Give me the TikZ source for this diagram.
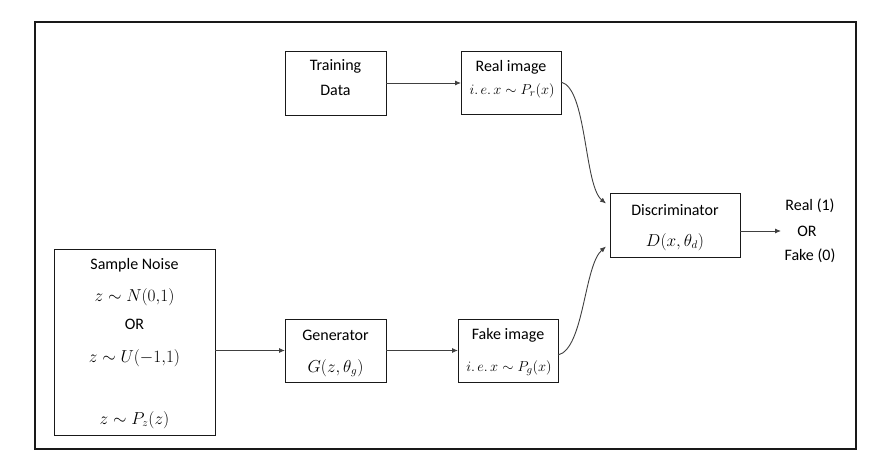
\documentclass[tikz,border=0pt]{standalone}
\usepackage{fontspec}
\setmainfont{Carlito}
\usetikzlibrary{arrows.meta}
\begin{document}
\begin{tikzpicture}[x=1pt,y=-1pt,
  box/.style={draw=black!90, line width=0.9pt, minimum width=#1, inner sep=0pt, outer sep=0pt},
  txt/.style={font=\fontsize{16}{19}\selectfont, inner sep=0pt, anchor=center},
  mtxt/.style={font=\fontsize{15}{18}\selectfont, inner sep=0pt, anchor=center},
  conn/.style={draw=black!75, line width=0.9pt, -{Latex[length=6pt,width=5pt]}}
]
\useasboundingbox (0,0) rectangle (887,472);
\draw[line width=2pt, black!90] (34.5,21.5) rectangle (855.5,448.5);

% boxes
\node[box=101pt, minimum height=64pt] (td) at (335.5,83) {};
\node[box=100pt, minimum height=63pt] (real) at (511,82.5) {};
\node[box=130pt, minimum height=64pt] (disc) at (675,225) {};
\node[box=161pt, minimum height=186pt] (noise) at (134.5,342) {};
\node[box=101pt, minimum height=63pt] (gen) at (335.5,350.5) {};
\node[box=100pt, minimum height=63pt] (fake) at (508,350.5) {};

% texts
\node[txt] (tdA) at (335.5,66) {Training};
\node[txt] (tdB) at (335.5,90) {Data};
\node[txt] (realA) at (511,67) {Real image};
\node[mtxt] (realB) at (512,91) {$i.\,e.\,x\sim P_r(x)$};
\node[txt] (discA) at (675,210) {Discriminator};
\node[txt] (discB) at (675,242) {$D(x,\theta_d)$};
\node[txt] (noiseA) at (134.5,265) {Sample Noise};
\node[txt] (noiseB) at (134.5,297) {$z\sim N(0{,}1)$};
\node[txt] (noiseC) at (134.5,324) {OR};
\node[txt] (noiseD) at (134.5,358) {$z\sim U(-1{,}1)$};
\node[txt] (noiseE) at (134.5,420) {$z\sim P_z(z)$};
\node[txt] (genA) at (335.5,335) {Generator};
\node[txt] (genB) at (335.5,368) {$G(z,\theta_g)$};
\node[txt] (fakeA) at (508,335) {Fake image};
\node[mtxt] (fakeB) at (509,368) {$i.\,e.\,x\sim P_g(x)$};
\node[txt] (outA) at (810,206) {Real (1)};
\node[txt] (outB) at (807,231) {OR};
\node[txt] (outC) at (810,256) {Fake (0)};
\coordinate (outarrow) at (781,231);

% connectors
\draw[conn] (td.east) -- (td.east -| real.west);
\draw[conn] (noise.east |- gen.west) -- (gen.west);
\draw[conn] (gen.east) -- (fake.west);
\draw[conn] ([yshift=0.5pt]real.east) .. controls +(26,6) and +(-22,-18) .. ([xshift=-4pt,yshift=21.5pt]disc.west);
\draw[conn] ([yshift=-4.5pt]fake.east) .. controls +(26,-6) and +(-22,19) .. ([xshift=-4pt,yshift=-21.5pt]disc.west);
\draw[conn] (disc.east |- outarrow) -- (outarrow);
\end{tikzpicture}
\end{document}
